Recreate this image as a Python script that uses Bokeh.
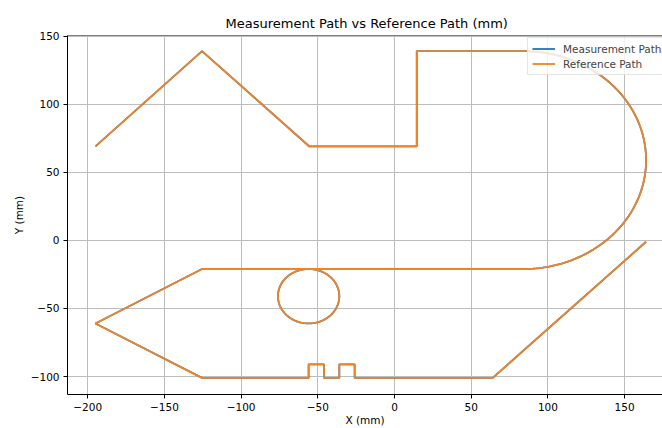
import numpy as np
from bokeh.plotting import figure
from bokeh.models import Range1d, FixedTicker, Legend, LegendItem, ColumnDataSource, Span
from bokeh.embed import file_html
from bokeh.resources import INLINE

# ---- data ----
# straight segments before the big arc
top_x = [-195, -125.5, -55.5, 14.5, 14.5, 84]
top_y = [69, 139, 69, 69, 139, 139]
# big half-arc on the right (centre, radius)
arc_cx, arc_cy, arc_r = 84, 59, 80
# bottom straight line before the small circle
mid_x = [84, -56]
mid_y = [-21, -21]
# small full circle (centre, radius)
circ_cx, circ_cy, circ_r = -56, -41, 20
# remaining straight segments with the two pulses and the final diagonal
end_x = [-56, -125.5, -195, -125.5, -56, -56, -46, -46, -36, -36, -26, -26, 64, 164]
end_y = [-21, -21, -61, -101, -101, -91, -91, -101, -101, -91, -91, -101, -101, -1]

x_ticks = [-200, -150, -100, -50, 0, 50, 100, 150]
y_ticks = [-100, -50, 0, 50, 100, 150]

# ---- assemble the path ----
a = np.linspace(np.pi / 2, -np.pi / 2, 120)
arc_x = arc_cx + arc_r * np.cos(a)
arc_y = arc_cy + arc_r * np.sin(a)
c = np.linspace(np.pi / 2, np.pi / 2 + 2 * np.pi, 120)
cx = circ_cx + circ_r * np.cos(c)
cy = circ_cy + circ_r * np.sin(c)

path_x = np.concatenate([top_x, arc_x, mid_x, cx, end_x])
path_y = np.concatenate([top_y, arc_y, mid_y, cy, end_y])

meas = ColumnDataSource(dict(x=path_x, y=path_y))
ref = ColumnDataSource(dict(x=path_x, y=path_y))

FONT = "DejaVu Sans"
Y_TOP = 150.5

p = figure(width=662, height=428, output_backend="svg", toolbar_location=None,
           x_range=Range1d(-213.2, 174.7), y_range=Range1d(-113.2, Y_TOP),
           min_border_left=67, min_border_top=35, min_border_bottom=33, min_border_right=0)

p.title.text = "Measurement Path vs Reference Path (mm)"
p.title.text_font = FONT
p.title.text_font_style = "normal"
p.title.text_font_size = "13px"
p.title.align = "left"
p.title.offset = 158
p.title.text_color = "black"

l1 = p.line("x", "y", source=meas, line_color="#1f77b4", line_width=1.8)
l2 = p.line("x", "y", source=ref, line_color="#f08328", line_width=1.8)

for ax, ticks in ((p.xaxis[0], x_ticks), (p.yaxis[0], y_ticks)):
    ax.ticker = FixedTicker(ticks=ticks)
    ax.major_label_overrides = {t: str(t).replace("-", "\u2212") for t in ticks}
    ax.major_label_text_font = FONT
    ax.major_label_text_font_size = "10.5px"
    ax.major_label_text_color = "black"
    ax.axis_label_text_font = FONT
    ax.axis_label_text_font_size = "10.5px"
    ax.axis_label_text_font_style = "normal"
    ax.axis_label_text_color = "black"
    ax.minor_tick_line_color = None
    ax.major_tick_out = 4
    ax.major_tick_in = 0
    ax.major_tick_line_color = "black"
    ax.axis_line_color = "black"
    ax.major_label_standoff = 4

p.xaxis.axis_label = "X (mm)"
p.yaxis.axis_label = "Y (mm)"
p.xaxis.axis_label_standoff = 0
p.yaxis.axis_label_standoff = 3

p.grid.grid_line_color = "#bdbdbd"
p.grid.grid_line_width = 1
p.outline_line_color = None
p.add_layout(Span(location=Y_TOP, dimension="width", line_color="black", line_width=1))
p.background_fill_color = "white"
p.border_fill_color = "white"

legend = Legend(items=[LegendItem(label="Measurement Path", renderers=[l1]),
                       LegendItem(label="Reference Path", renderers=[l2])],
                location=(460, 319))
legend.label_text_font = FONT
legend.label_text_font_size = "10.5px"
legend.label_height = 13
legend.glyph_height = 13
legend.glyph_width = 23
legend.label_standoff = 8
legend.spacing = 2
legend.padding = 4
legend.margin = 0
legend.border_line_color = "#cccccc"
legend.background_fill_alpha = 0.8
p.add_layout(legend)

open("out.html", "w").write(file_html(p, INLINE))
